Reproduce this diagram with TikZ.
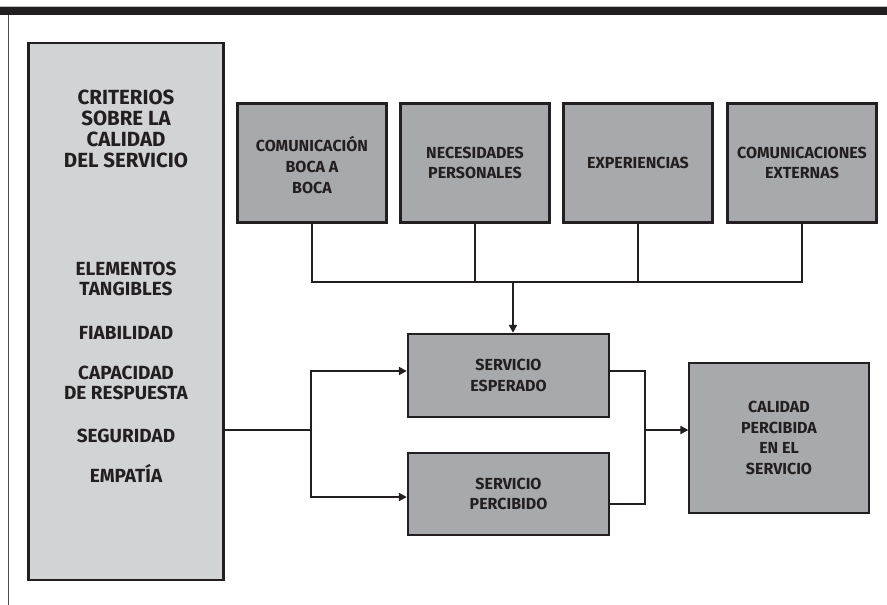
\documentclass[tikz,border=0pt]{standalone}
\usepackage{fontspec}
\setmainfont{Fira Sans}
\usetikzlibrary{arrows.meta}
\definecolor{ink}{HTML}{231F20}
\definecolor{lightbox}{HTML}{D1D3D4}
\definecolor{darkbox}{HTML}{A7A9AC}
\tikzset{
  bigbox/.style={draw=ink, line width=2.6pt, fill=lightbox, rectangle, inner sep=0pt},
  graybox/.style={draw=ink, line width=2.4pt, fill=darkbox, rectangle, inner sep=0pt},
  thinbox/.style={draw=ink, line width=1.2pt, fill=darkbox, rectangle, inner sep=0pt},
  lbl/.style={text=ink, font=\bfseries\fontsize{16}{20.8}\selectfont, align=center, inner sep=0pt},
  title/.style={text=ink, font=\bfseries\fontsize{20.5}{20.8}\selectfont, align=center, inner sep=0pt},
  item/.style={text=ink, font=\bfseries\fontsize{19}{20}\selectfont, align=center, inner sep=0pt, anchor=base},
  conn/.style={draw=ink, line width=2pt},
  arr/.style={conn, -{Triangle[length=8pt,width=8pt]}},
}
\begin{document}
\begin{tikzpicture}[x=1pt,y=-1pt]
\useasboundingbox (0,0) rectangle (887,605);
\fill[white] (0,0) rectangle (887,605);
% frame
\fill[gray!50] (0,5.5) rectangle (887,7.3);
\fill[ink] (0,7.3) rectangle (887,15);
\draw[ink!80, line width=1.1pt] (8.5,15) -- (8.5,605);
% big left box
\node[bigbox, minimum width=195pt, minimum height=537pt] (crit) at (126,311.5) {};
\node[title] (crittitle) at (126,129) {CRITERIOS\\SOBRE LA\\CALIDAD\\DEL SERVICIO};
\node[item] (i1) at (126,275) {ELEMENTOS};
\node[item] (i1b) at (126,295) {TANGIBLES};
\node[item] (i2) at (126,339) {FIABILIDAD};
\node[item] (i3) at (126,379) {CAPACIDAD};
\node[item] (i3b) at (126,399) {DE RESPUESTA};
\node[item] (i4) at (126,442) {SEGURIDAD};
\node[item] (i5) at (126,482) {EMPATÍA};
% top boxes
\node[graybox, minimum width=149pt, minimum height=119pt] (boca) at (312,163) {};
\node[lbl] at (312,165) {COMUNICACIÓN\\BOCA A\\BOCA};
\node[graybox, minimum width=149pt, minimum height=119pt] (nec) at (475,163) {};
\node[lbl] at (nec) {NECESIDADES\\PERSONALES};
\node[graybox, minimum width=149pt, minimum height=119pt] (exp) at (638,163) {};
\node[lbl] at (exp) {EXPERIENCIAS};
\node[graybox, minimum width=149pt, minimum height=119pt] (ext) at (802,163) {};
\node[lbl] at (ext) {COMUNICACIONES\\EXTERNAS};
% middle boxes
\node[graybox, minimum width=201pt, minimum height=83pt] (esp) at (508.5,375.5) {};
\node[lbl] at (esp) {SERVICIO\\ESPERADO};
\node[graybox, minimum width=201pt, minimum height=82pt] (per) at (508.5,494) {};
\node[lbl] at (per) {SERVICIO\\PERCIBIDO};
\node[thinbox, minimum width=180pt, minimum height=150pt] (cal) at (779,438) {};
\node[lbl] at (cal) {CALIDAD\\PERCIBIDA\\EN EL\\SERVICIO};
% junction coordinates
\coordinate (topbus) at (513,282);
\coordinate (lj) at (311,430);
\coordinate (rj) at (645,430);
% top connectors
\draw[conn] (boca.south) |- (topbus);
\draw[conn] (nec.south) -- (nec.south |- topbus);
\draw[conn] (exp.south) -- (exp.south |- topbus);
\draw[conn] (ext.south) |- (topbus);
\draw[arr] (topbus) -- (esp.north -| topbus);
% left connectors
\draw[conn] (crit.east |- lj) -- (lj);
\draw[arr] (lj) |- (esp.west |- 0,371);
\draw[arr] (lj) |- (per.west |- 0,497);
% right connectors
\draw[conn] (esp.east |- 0,371) -| (rj);
\draw[conn] (per.east |- 0,504) -| (rj);
\draw[arr] (rj) -- (cal.west |- rj);
\end{tikzpicture}
\end{document}
